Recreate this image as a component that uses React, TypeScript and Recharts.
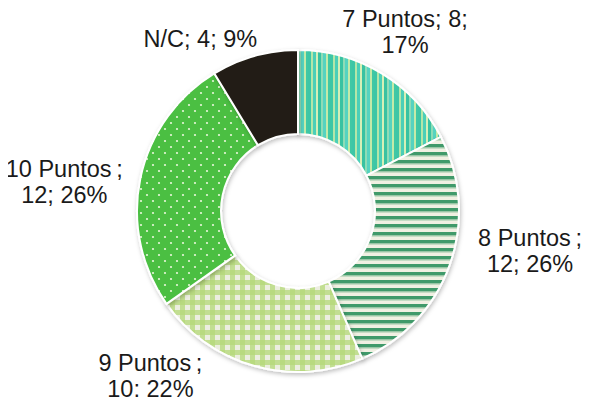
import { PieChart, Pie, Cell } from "recharts";

const CATEGORIES = ["7 Puntos", "8 Puntos", "9 Puntos", "10 Puntos", "N/C"];
const COUNTS = [8, 12, 10, 12, 4];
const PERCENTS = ["17%", "26%", "22%", "26%", "9%"];
// how each label is split over lines, like the original
const LABEL_LINES = [
  (i: number) => [`${CATEGORIES[i]}; ${COUNTS[i]};`, PERCENTS[i]],
  (i: number) => [`${CATEGORIES[i]}\u2009;`, `${COUNTS[i]}; ${PERCENTS[i]}`],
  (i: number) => [`${CATEGORIES[i]}\u2009;`, `${COUNTS[i]}; ${PERCENTS[i]}`],
  (i: number) => [`${CATEGORIES[i]}\u2009;`, `${COUNTS[i]}; ${PERCENTS[i]}`],
  (i: number) => [`${CATEGORIES[i]}; ${COUNTS[i]}; ${PERCENTS[i]}`],
];

const FILLS = ["url(#p-vstripe)", "url(#p-hstripe)", "url(#p-gingham)", "url(#p-dots)", "#221e14"];

// manual nudges of labels from their radial anchor point
const LABEL_NUDGE = [
  [0, -3],
  [38, -29],
  [-92, -33],
  [-32, 13],
  [-42, 26],
];

const rows = CATEGORIES.map((name, i) => ({ name, value: COUNTS[i] }));

const RAD = Math.PI / 180;

function renderLabel(props: any) {
  const { cx, cy, midAngle, outerRadius, index } = props;
  const r = outerRadius + 45;
  const x = cx + r * Math.cos(-midAngle * RAD) + LABEL_NUDGE[index][0];
  const y = cy + r * Math.sin(-midAngle * RAD) + LABEL_NUDGE[index][1];
  const lines = LABEL_LINES[index](index);
  const lh = 26;
  const firstBaseline = y + 8 - ((lines.length - 1) * lh) / 2;
  return (
    <text
      key={`lbl-${index}`}
      x={x}
      y={firstBaseline}
      textAnchor="middle"
      fill="#1a1a1a"
      fontSize={23.5}
      fontFamily="'Liberation Sans', Arial, sans-serif"
    >
      {lines.map((ln, k) => (
        <tspan key={k} x={x} y={firstBaseline + k * lh}>
          {ln}
        </tspan>
      ))}
    </text>
  );
}

export default function App() {
  return (
    <div style={{ width: 589, height: 405, margin: -8, background: "#fff" }}>
      <PieChart width={589} height={405} margin={{ top: 0, right: 0, bottom: 0, left: 0 }}>
        <defs>
          <pattern id="p-vstripe" width="22" height="10" patternUnits="userSpaceOnUse">
            <rect width="22" height="10" fill="#5fd2b6" />
            <rect x="0" width="3" height="10" fill="#3cc6a6" />
            <rect x="3" width="2" height="10" fill="#b4e6a8" />
            <rect x="5" width="3" height="10" fill="#4ccfb8" />
            <rect x="8" width="2" height="10" fill="#d6efb6" />
            <rect x="10" width="3" height="10" fill="#38c2a2" />
            <rect x="13" width="2" height="10" fill="#8edcb6" />
            <rect x="15" width="3" height="10" fill="#55d3c0" />
            <rect x="18" width="2" height="10" fill="#c4eaa8" />
            <rect x="20" width="2" height="10" fill="#40c8a4" />
          </pattern>
          <pattern id="p-hstripe" width="10" height="8" patternUnits="userSpaceOnUse">
            <rect width="10" height="8" fill="#f0f0e2" />
            <rect y="0" width="10" height="3.5" fill="#3f9a6a" />
            <rect y="3.5" width="10" height="1" fill="#9cc8a6" />
          </pattern>
          <pattern id="p-gingham" width="10" height="10" patternUnits="userSpaceOnUse">
            <rect width="10" height="10" fill="#eceee0" />
            <rect x="0" width="5" height="10" fill="#b4d878" opacity="0.75" />
            <rect y="0" width="10" height="5" fill="#b4d878" opacity="0.75" />
          </pattern>
          <pattern id="p-dots" width="12" height="12" patternUnits="userSpaceOnUse">
            <rect width="12" height="12" fill="#4bbf43" />
            <circle cx="3" cy="3" r="1.1" fill="#e8f6d8" />
            <circle cx="9" cy="9" r="1.1" fill="#e8f6d8" />
          </pattern>
          <filter id="shadow" x="-10%" y="-10%" width="120%" height="120%">
            <feDropShadow dx="1" dy="2" stdDeviation="2" floodColor="#000" floodOpacity="0.25" />
          </filter>
        </defs>
        <Pie
          data={rows}
          dataKey="value"
          nameKey="name"
          cx={298}
          cy={211}
          innerRadius={77}
          outerRadius={161}
          startAngle={90}
          endAngle={-270}
          stroke="#ffffff"
          strokeWidth={2}
          label={renderLabel}
          labelLine={false}
          isAnimationActive={false}
          style={{ filter: "url(#shadow)" }}
        >
          {rows.map((_, i) => (
            <Cell key={i} fill={FILLS[i]} />
          ))}
        </Pie>
      </PieChart>
    </div>
  );
}
